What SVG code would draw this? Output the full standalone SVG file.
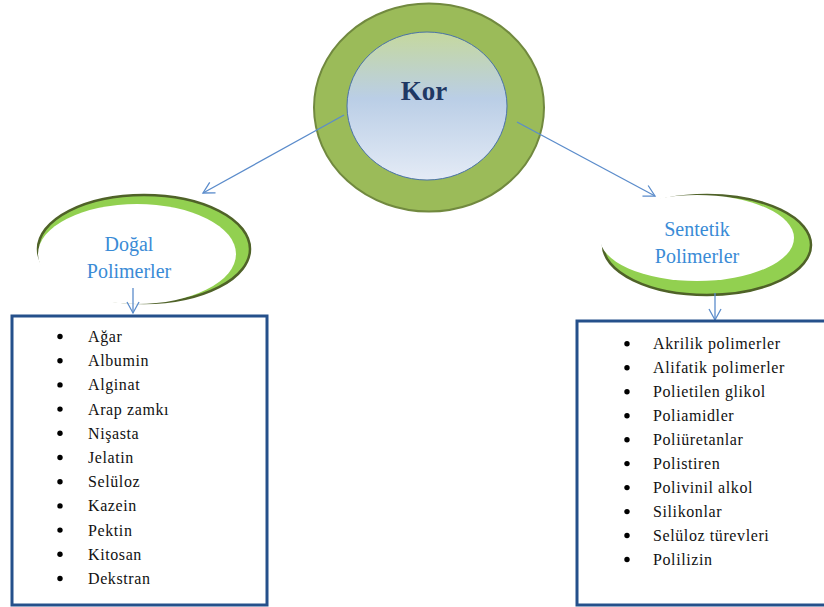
<svg xmlns="http://www.w3.org/2000/svg" width="824" height="607" viewBox="0 0 824 607">
<defs>
<linearGradient id="innerGrad" x1="0" y1="0" x2="0" y2="1">
<stop offset="0" stop-color="#C5D89E"/>
<stop offset="0.45" stop-color="#BACEE6"/>
<stop offset="1" stop-color="#E4EBF6"/>
</linearGradient>
<marker id="arr" markerUnits="userSpaceOnUse" markerWidth="16" markerHeight="16" refX="13" refY="8" orient="auto" viewBox="0 0 16 16">
<path d="M2,2 L13,8 L2,14" fill="none" stroke="#5B8CCB" stroke-width="1.3"/>
</marker>
<style>
text{font-family:'Liberation Serif','Times New Roman',serif}
.lbl{font-size:20px;fill:#3A8BD6;text-anchor:middle}
.item{font-size:16px;fill:#111;letter-spacing:0.6px}
.bul{fill:#000}
.box{fill:#fff;stroke:#25508B;stroke-width:3}
.conn{stroke:#5B8CCB;stroke-width:1.3;fill:none;marker-end:url(#arr)}
.cres{fill:#92D050;stroke:#4F6228;stroke-width:2.5}
</style>
</defs>
<rect width="824" height="607" fill="#fff"/>

<g id="kor">
<ellipse cx="429" cy="107.5" rx="115" ry="104" fill="#9BBB59" stroke="#71893F" stroke-width="2"/>
<ellipse cx="427" cy="106" rx="80" ry="74" fill="url(#innerGrad)" stroke="#4A72A8" stroke-width="1"/>
<text x="424" y="100" font-size="27" font-weight="bold" fill="#1F3864" text-anchor="middle">Kor</text>
</g>

<g id="dogal">
<ellipse class="cres" cx="144" cy="249" rx="106" ry="54"/>
<ellipse cx="137" cy="254" rx="99" ry="50" fill="#fff"/>
<text class="lbl" x="129" y="251">Doğal</text>
<text class="lbl" x="129" y="278">Polimerler</text>
</g>

<g id="sentetik">
<ellipse class="cres" cx="707" cy="245" rx="104" ry="50"/>
<ellipse cx="697" cy="238" rx="97" ry="43" fill="#fff"/>
<text class="lbl" x="697" y="236">Sentetik</text>
<text class="lbl" x="697" y="263">Polimerler</text>
</g>

<g id="connectors">
<line class="conn" x1="344" y1="115" x2="203" y2="193"/>
<line class="conn" x1="517" y1="122" x2="655" y2="196"/>
<line class="conn" x1="133" y1="288" x2="133" y2="313"/>
<line class="conn" x1="715" y1="293" x2="715" y2="320"/>
</g>

<g id="dogal-list">
<rect class="box" x="12" y="316" width="255" height="289"/>
<g class="bul">
<circle cx="60" cy="336.5" r="2.7"/>
<circle cx="60" cy="360.7" r="2.7"/>
<circle cx="60" cy="384.9" r="2.7"/>
<circle cx="60" cy="409.1" r="2.7"/>
<circle cx="60" cy="433.3" r="2.7"/>
<circle cx="60" cy="457.5" r="2.7"/>
<circle cx="60" cy="481.7" r="2.7"/>
<circle cx="60" cy="505.9" r="2.7"/>
<circle cx="60" cy="530.1" r="2.7"/>
<circle cx="60" cy="554.3" r="2.7"/>
<circle cx="60" cy="578.5" r="2.7"/>
</g>
<text class="item" x="88" y="342">Ağar</text>
<text class="item" x="88" y="366.2">Albumin</text>
<text class="item" x="88" y="390.4">Alginat</text>
<text class="item" x="88" y="414.6">Arap zamkı</text>
<text class="item" x="88" y="438.8">Nişasta</text>
<text class="item" x="88" y="463">Jelatin</text>
<text class="item" x="88" y="487.2">Selüloz</text>
<text class="item" x="88" y="511.4">Kazein</text>
<text class="item" x="88" y="535.6">Pektin</text>
<text class="item" x="88" y="559.8">Kitosan</text>
<text class="item" x="88" y="584">Dekstran</text>
</g>

<g id="sentetik-list">
<rect class="box" x="577" y="321" width="262" height="284"/>
<g class="bul">
<circle cx="627" cy="343.8" r="2.7"/>
<circle cx="627" cy="367.8" r="2.7"/>
<circle cx="627" cy="391.7" r="2.7"/>
<circle cx="627" cy="415.7" r="2.7"/>
<circle cx="627" cy="439.7" r="2.7"/>
<circle cx="627" cy="463.6" r="2.7"/>
<circle cx="627" cy="487.6" r="2.7"/>
<circle cx="627" cy="511.6" r="2.7"/>
<circle cx="627" cy="535.5" r="2.7"/>
<circle cx="627" cy="559.5" r="2.7"/>
</g>
<text class="item" x="653" y="349.3">Akrilik polimerler</text>
<text class="item" x="653" y="373.3">Alifatik polimerler</text>
<text class="item" x="653" y="397.2">Polietilen glikol</text>
<text class="item" x="653" y="421.2">Poliamidler</text>
<text class="item" x="653" y="445.2">Poliüretanlar</text>
<text class="item" x="653" y="469.1">Polistiren</text>
<text class="item" x="653" y="493.1">Polivinil alkol</text>
<text class="item" x="653" y="517.1">Silikonlar</text>
<text class="item" x="653" y="541">Selüloz türevleri</text>
<text class="item" x="653" y="565">Polilizin</text>
</g>
</svg>
